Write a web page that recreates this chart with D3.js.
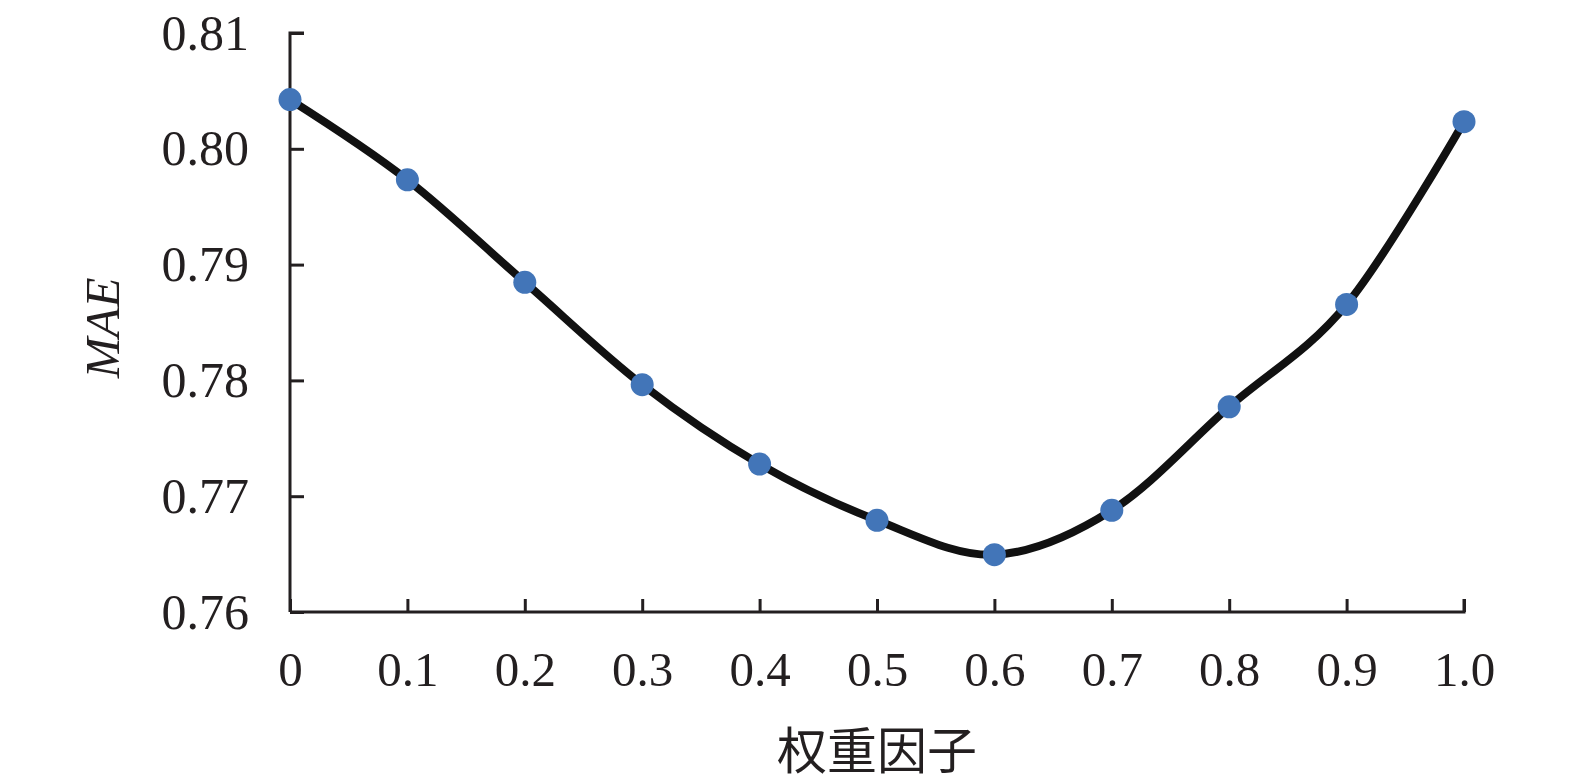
<!DOCTYPE html>
<html><head><meta charset="utf-8">
<script src="https://cdn.jsdelivr.net/npm/d3@7"></script>
<style>body{margin:0;background:#fff}svg{display:block}</style>
</head><body>
<svg id="c" width="1575" height="782"></svg>
<script>
const weights = [0, 0.1, 0.2, 0.3, 0.4, 0.5, 0.6, 0.7, 0.8, 0.9, 1.0];
const mae = [0.80425, 0.79732, 0.78847, 0.77963, 0.77277, 0.76792, 0.76495, 0.76878, 0.77772, 0.78656, 0.80234];
const xTickLabels = ["0","0.1","0.2","0.3","0.4","0.5","0.6","0.7","0.8","0.9","1.0"];
const yTicks = [0.76, 0.77, 0.78, 0.79, 0.80, 0.81];
const xTitle = "权重因子";
const yTitle = "MAE";

const svg = d3.select("#c");
const x = d3.scaleLinear().domain([0, 1]).range([290, 1464]);
const y = d3.scaleLinear().domain([0.76, 0.81]).range([612, 33]);
const ink = "#231f20";
const serif = "'Liberation Serif','Times New Roman',serif";

// y axis
const ya = svg.append("g").attr("transform", "translate(290,0)")
  .call(d3.axisRight(y).tickValues(yTicks).tickSize(14).tickFormat(d3.format(".2f")));
ya.select(".domain").attr("stroke", ink).attr("stroke-width", 3).attr("d", `M14,${y(0.81)}H0V${y(0.76)}`);
ya.selectAll(".tick line").attr("stroke", ink).attr("stroke-width", 3);
ya.selectAll(".tick text").attr("x", -41).attr("text-anchor", "end")
  .attr("font-family", serif).attr("font-size", 50).attr("fill", ink).attr("dy", "0.32em");

// x axis
const xa = svg.append("g").attr("transform", "translate(0,612)")
  .call(d3.axisTop(x).tickValues(weights).tickSize(13).tickFormat((d, i) => xTickLabels[i]));
xa.select(".domain").attr("stroke", ink).attr("stroke-width", 3).attr("d", `M290,0H1464V-13`);
xa.selectAll(".tick line").attr("stroke", ink).attr("stroke-width", 3);
xa.selectAll(".tick text").attr("y", 74).attr("dy", 0)
  .attr("font-family", serif).attr("font-size", 49).attr("fill", ink);

// line
const line = d3.line().x((d, i) => x(weights[i])).y(d => y(d)).curve(d3.curveCatmullRom.alpha(0));
svg.append("path").datum(mae).attr("d", line).attr("fill", "none")
  .attr("stroke", "#111").attr("stroke-width", 8).attr("stroke-linejoin", "round");

// points
svg.append("g").selectAll("circle").data(mae).join("circle")
  .attr("cx", (d, i) => x(weights[i])).attr("cy", d => y(d)).attr("r", 11.5).attr("fill", "#4275b8");

// titles
svg.append("text").attr("x", 877).attr("y", 769).attr("text-anchor", "middle")
  .attr("font-family", "'Noto Sans CJK SC',sans-serif").attr("font-size", 50).attr("fill", ink).text(xTitle);
svg.append("text").attr("transform", "translate(119,328) rotate(-90)").attr("text-anchor", "middle")
  .attr("font-family", serif).attr("font-style", "italic").attr("font-size", 49).attr("fill", ink).text(yTitle);
</script>
</body></html>
